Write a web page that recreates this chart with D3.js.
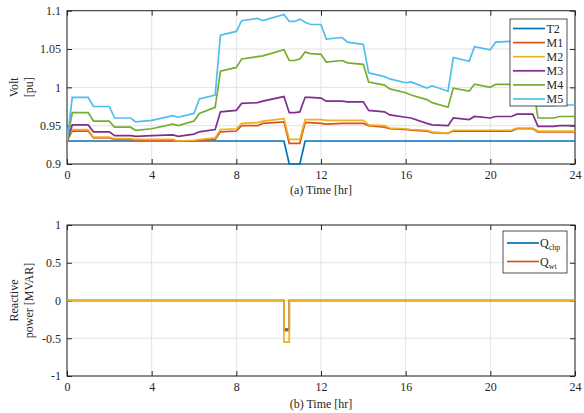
<!DOCTYPE html>
<html>
<head>
<meta charset="utf-8">
<script src="https://cdn.jsdelivr.net/npm/d3@7"></script>
<style>
  body { margin: 0; background: #fff; }
  svg text { font-family: "Liberation Serif", "Times New Roman", "DejaVu Serif", serif; fill: #262626; }
</style>
</head>
<body>
<script>
// Time axis shared by the voltage profiles (hours)
var hours = [0, 0.25, 1, 1.25, 2, 2.25, 3, 3.25, 4, 5,
  5.25, 6, 6.25, 7, 7.25, 8, 8.25, 9, 9.25, 10.25,
  10.5, 10.75, 11, 11.25, 11.5, 12, 12.25, 13, 13.25, 14,
  14.25, 15, 15.25, 16, 16.25, 17, 17.25, 18, 18.25, 19,
  19.25, 20, 20.25, 21, 21.25, 22, 22.25, 23, 23.25, 24];

// Bus voltages [pu]
var voltT2 = [0.93, 0.93, 0.93, 0.93, 0.93, 0.93, 0.93, 0.93, 0.93, 0.93,
  0.93, 0.93, 0.93, 0.93, 0.93, 0.93, 0.93, 0.93, 0.93, 0.93,
  0.9, 0.9, 0.9, 0.93, 0.93, 0.93, 0.93, 0.93, 0.93, 0.93,
  0.93, 0.93, 0.93, 0.93, 0.93, 0.93, 0.93, 0.93, 0.93, 0.93,
  0.93, 0.93, 0.93, 0.93, 0.93, 0.93, 0.93, 0.93, 0.93, 0.93];
var voltM1 = [0.93, 0.943, 0.943, 0.934, 0.934, 0.932, 0.932, 0.931, 0.931, 0.931,
  0.93, 0.93, 0.931, 0.932, 0.942, 0.943, 0.95, 0.95, 0.953, 0.955,
  0.927, 0.927, 0.927, 0.954, 0.954, 0.953, 0.952, 0.953, 0.953, 0.953,
  0.95, 0.948, 0.946, 0.945, 0.944, 0.943, 0.941, 0.94, 0.943, 0.943,
  0.943, 0.943, 0.943, 0.943, 0.946, 0.946, 0.942, 0.942, 0.942, 0.942];
var voltM2 = [0.93, 0.945, 0.945, 0.935, 0.935, 0.933, 0.933, 0.932, 0.932, 0.932,
  0.93, 0.931, 0.932, 0.934, 0.945, 0.946, 0.953, 0.954, 0.956, 0.959,
  0.932, 0.932, 0.932, 0.958, 0.958, 0.958, 0.957, 0.957, 0.957, 0.957,
  0.951, 0.95, 0.947, 0.946, 0.945, 0.944, 0.942, 0.94, 0.944, 0.944,
  0.944, 0.944, 0.944, 0.944, 0.947, 0.947, 0.943, 0.943, 0.943, 0.943];
var voltM3 = [0.93, 0.951, 0.951, 0.942, 0.942, 0.937, 0.937, 0.936, 0.937, 0.938,
  0.936, 0.939, 0.942, 0.945, 0.968, 0.97, 0.979, 0.98, 0.982, 0.988,
  0.967, 0.967, 0.968, 0.987, 0.987, 0.986, 0.982, 0.982, 0.981, 0.981,
  0.97, 0.968, 0.964, 0.961, 0.96, 0.953, 0.951, 0.95, 0.96, 0.958,
  0.962, 0.96, 0.962, 0.962, 0.965, 0.965, 0.949, 0.949, 0.95, 0.95];
var voltM4 = [0.93, 0.967, 0.967, 0.956, 0.956, 0.948, 0.948, 0.944, 0.946, 0.952,
  0.95, 0.956, 0.966, 0.974, 1.021, 1.026, 1.037, 1.04, 1.041, 1.049,
  1.035, 1.035, 1.037, 1.046, 1.044, 1.043, 1.033, 1.035, 1.032, 1.03,
  1.007, 1.003, 0.998, 0.993, 0.99, 0.984, 0.98, 0.974, 0.999, 0.995,
  1.004, 1.0, 1.004, 1.004, 1.005, 1.005, 0.96, 0.96, 0.962, 0.962];
var voltM5 = [0.93, 0.987, 0.987, 0.975, 0.975, 0.96, 0.96, 0.955, 0.957, 0.963,
  0.961, 0.966, 0.985, 0.99, 1.068, 1.073, 1.087, 1.09, 1.087, 1.095,
  1.086, 1.086, 1.089, 1.085, 1.082, 1.082, 1.063, 1.065, 1.059, 1.056,
  1.019, 1.014, 1.011, 1.006, 1.007, 0.999, 1.002, 0.995, 1.039, 1.034,
  1.053, 1.049, 1.059, 1.06, 1.062, 1.062, 0.976, 0.976, 0.977, 0.977];

var voltNames = ["T2", "M1", "M2", "M3", "M4", "M5"];
var voltTicks = [0.9, 0.95, 1, 1.05, 1.1];
var hourTicks = [0, 4, 8, 12, 16, 20, 24];

// Reactive power [MVAR]
var qHours = [0, 10.25, 10.25, 10.5, 10.5, 24];
var qChp = [0, 0, -0.38, -0.38, 0, 0];
var qWt = [0, 0, -0.4, -0.4, 0, 0];
var qThird = [0, 0, -0.55, -0.55, 0, 0];
var qTicks = [-1, -0.5, 0, 0.5, 1];

var colors = ["#0072BD", "#D95319", "#EDB120", "#7E2F8E", "#77AC30", "#4DBEEE"];
var serif = "'Liberation Serif', 'Times New Roman', 'DejaVu Serif', serif";

var svgWidth = 584;
var svgHeight = 413;

var svg = d3.select("body")
  .append("svg")
  .attr("width", svgWidth)
  .attr("height", svgHeight)
  .attr("font-family", serif);

var xScale = d3.scaleLinear().domain([0, 24]).range([67, 575]);
var yVolt = d3.scaleLinear().domain([0.9, 1.1]).range([164, 10.7]);
var yQ = d3.scaleLinear().domain([-1, 1]).range([376, 225]);

// draws grid, box, inward ticks and labels for one panel
function drawPanel(yScale, yTicks, id, xLabel, xLabelY, yLabels) {
  var top = yScale.range()[1], bottom = yScale.range()[0];
  var left = xScale.range()[0], right = xScale.range()[1];
  var g = svg.append("g");

  g.selectAll(".gx").data(hourTicks).enter().append("line")
    .attr("x1", d => xScale(d)).attr("x2", d => xScale(d))
    .attr("y1", top).attr("y2", bottom)
    .attr("stroke", "#e3e3e3").attr("stroke-width", 1);
  g.selectAll(".gy").data(yTicks).enter().append("line")
    .attr("x1", left).attr("x2", right)
    .attr("y1", d => yScale(d)).attr("y2", d => yScale(d))
    .attr("stroke", "#e3e3e3").attr("stroke-width", 1);

  svg.append("clipPath").attr("id", id)
    .append("rect").attr("x", left).attr("y", top - 1)
    .attr("width", right - left).attr("height", bottom - top + 2);

  var fmt = d => String(d);
  var axes = [
    [d3.axisBottom(xScale).tickValues(hourTicks).tickFormat(fmt), `translate(0,${bottom})`],
    [d3.axisTop(xScale).tickValues(hourTicks).tickFormat(""), `translate(0,${top})`],
    [d3.axisLeft(yScale).tickValues(yTicks).tickFormat(fmt), `translate(${left},0)`],
    [d3.axisRight(yScale).tickValues(yTicks).tickFormat(""), `translate(${right},0)`]
  ];
  axes.forEach(function(a) {
    var ax = svg.append("g").attr("transform", a[1])
      .call(a[0].tickSizeInner(-5).tickSizeOuter(0).tickPadding(6));
    ax.attr("font-family", serif).attr("font-size", 12);
    ax.select(".domain").remove();
    ax.selectAll("line").attr("stroke", "#262626");
    ax.selectAll("text").attr("fill", "#262626");
  });

  svg.append("rect")
    .attr("x", left).attr("y", top)
    .attr("width", right - left).attr("height", bottom - top)
    .attr("fill", "none").attr("stroke", "#262626").attr("stroke-width", 1);

  svg.append("text")
    .attr("x", (left + right) / 2).attr("y", xLabelY)
    .attr("text-anchor", "middle").attr("font-size", 12)
    .text(xLabel);

  var midY = (top + bottom) / 2;
  yLabels.forEach(function(t, i) {
    svg.append("text")
      .attr("transform", `translate(${18 + i * 15},${midY}) rotate(-90)`)
      .attr("text-anchor", "middle").attr("font-size", 12)
      .text(t);
  });
}

drawPanel(yVolt, voltTicks, "clipA", "(a) Time [hr]", 194, ["Volt", "[pu]"]);
drawPanel(yQ, qTicks, "clipB", "(b) Time [hr]", 408, ["Reactive", "power [MVAR]"]);

// voltage lines
var voltSeries = [voltT2, voltM1, voltM2, voltM3, voltM4, voltM5];
var voltLine = d3.line()
  .x((d, i) => xScale(hours[i]))
  .y(d => yVolt(d));

svg.append("g").attr("clip-path", "url(#clipA)")
  .selectAll("path").data(voltSeries).enter().append("path")
  .attr("d", d => voltLine(d))
  .attr("fill", "none")
  .attr("stroke", (d, i) => colors[i])
  .attr("stroke-width", 1.7);

// reactive power lines
var qSeries = [qChp, qWt, qThird];
var qLine = d3.line()
  .x((d, i) => xScale(qHours[i]))
  .y(d => yQ(d));

svg.append("g").attr("clip-path", "url(#clipB)")
  .selectAll("path").data(qSeries).enter().append("path")
  .attr("d", d => qLine(d))
  .attr("fill", "none")
  .attr("stroke", (d, i) => colors[i])
  .attr("stroke-width", 1.7);

// legend (a)
var legA = svg.append("g");
legA.append("rect")
  .attr("x", 510).attr("y", 19).attr("width", 57).attr("height", 87)
  .attr("fill", "#fff").attr("stroke", "#262626").attr("stroke-width", 0.8);
voltNames.forEach(function(name, i) {
  var ly = 28.5 + i * 14.1;
  legA.append("line")
    .attr("x1", 513).attr("x2", 545).attr("y1", ly).attr("y2", ly)
    .attr("stroke", colors[i]).attr("stroke-width", 1.7);
  legA.append("text")
    .attr("x", 546.5).attr("y", ly + 4)
    .attr("font-size", 12)
    .text(name);
});

// legend (b)
var qNames = [["Q", "chp"], ["Q", "wt"]];
var legB = svg.append("g");
legB.append("rect")
  .attr("x", 503).attr("y", 231).attr("width", 64).attr("height", 42)
  .attr("fill", "#fff").attr("stroke", "#262626").attr("stroke-width", 0.8);
qNames.forEach(function(name, i) {
  var ly = 243 + i * 18.5;
  legB.append("line")
    .attr("x1", 507).attr("x2", 539).attr("y1", ly).attr("y2", ly)
    .attr("stroke", colors[i]).attr("stroke-width", 1.7);
  var t = legB.append("text")
    .attr("x", 540).attr("y", ly + 4)
    .attr("font-size", 12);
  t.append("tspan").text(name[0]);
  t.append("tspan").attr("dy", 3).attr("font-size", 8).text(name[1]);
});
</script>
</body>
</html>
